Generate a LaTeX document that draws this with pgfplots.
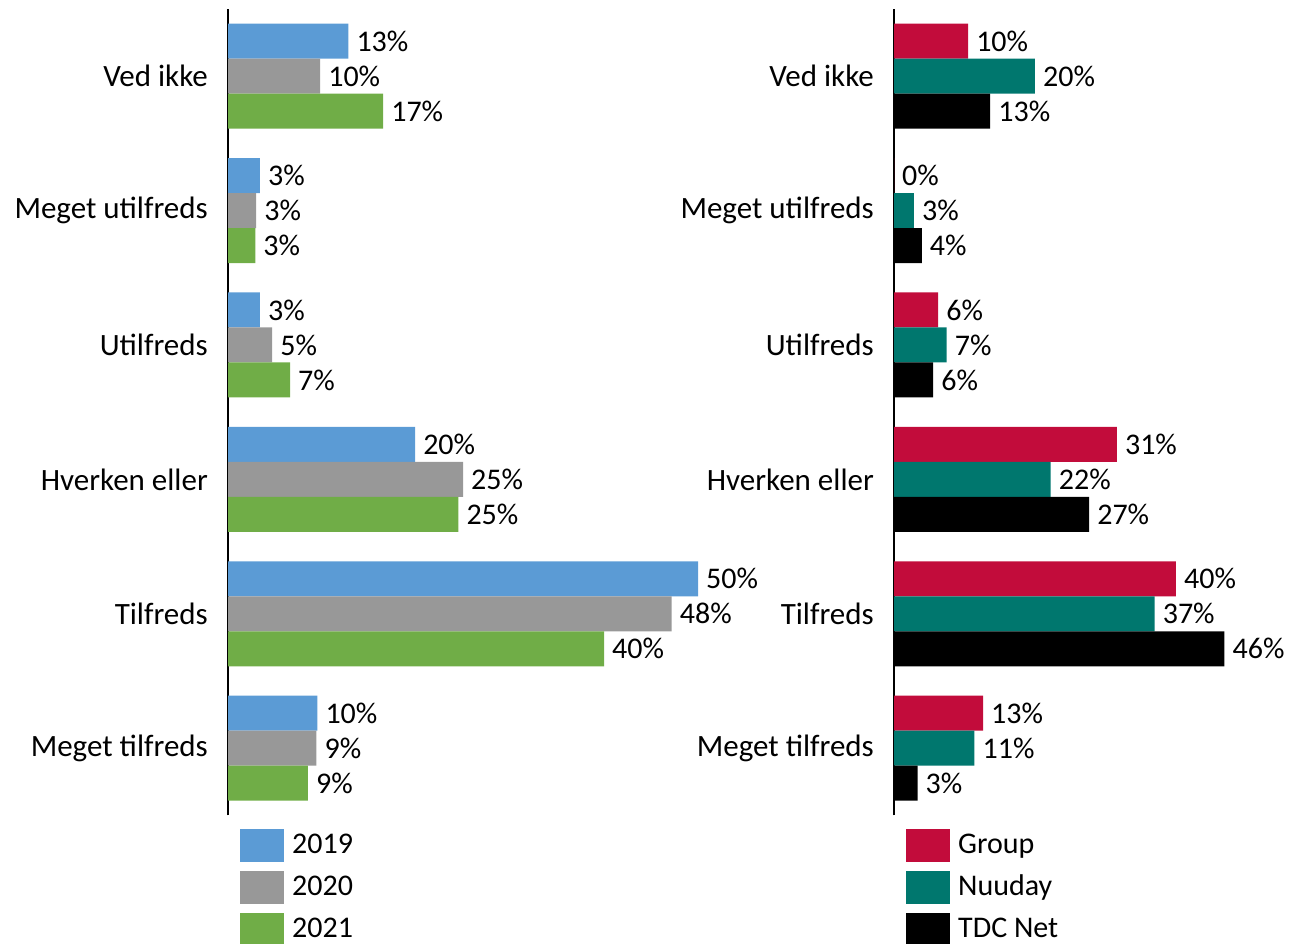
\documentclass[border=0pt]{standalone}
\usepackage{fontspec}
\setmainfont{Carlito}
\usepackage{pgfplots}
\pgfplotsset{compat=1.18}
\definecolor{cblue}{HTML}{5B9BD5}
\definecolor{cgray}{HTML}{989898}
\definecolor{cgreen}{HTML}{70AD47}
\definecolor{cred}{HTML}{C20C3B}
\definecolor{cteal}{HTML}{00776E}
\pgfplotsset{
  mybars/.style={
    xbar, scale only axis,
    anchor=south west,
    height=806.4pt,
    xmin=0, xmax=50,
    ymin=-0.5, ymax=5.5,
    clip=false,
    axis x line=none,
    axis y line*=left,
    y axis line style={line width=1.5pt, black},
    major tick length=0pt,
    ytick={0,1,2,3,4,5},
    yticklabels={Meget tilfreds,Tilfreds,Hverken eller,Utilfreds,Meget utilfreds,Ved ikke},
    yticklabel style={inner sep=0pt, xshift=-20pt},
    bar width=35pt,
    point meta=explicit symbolic,
    nodes near coords={\pgfplotspointmeta},
    every node near coord/.append style={anchor=west, inner sep=0pt, xshift=8pt, font=\fontsize{30}{36}\selectfont, text=black},
    tick label style={font=\fontsize{31}{37}\selectfont},
    legend image code/.code={\fill[##1,draw=none] (0pt,-16.5pt) rectangle (44pt,16.5pt);},
    legend style={at={(0,0)}, anchor=north west, xshift=12pt, yshift=-13.6pt,
      draw=none, fill=none, inner sep=0pt, row sep=9pt,
      nodes={inner sep=0pt, anchor=west},
      font=\fontsize{30}{36}\selectfont},
    legend cell align=left,
  },
}
\begin{document}
\fontsize{30}{36}\selectfont
\begin{tikzpicture}
\useasboundingbox (0,0) rectangle (1300pt,944pt);
\begin{axis}[mybars, at={(228pt,128.6pt)}, width=470pt,
  legend style={column sep=8pt}]
\addplot[fill=cblue, draw=none, bar shift=35pt] coordinates {
  (9.5,0) [10\%] (50.0,1) [50\%] (19.9,2) [20\%] (3.4,3) [3\%] (3.4,4) [3\%] (12.8,5) [13\%]};
\addplot[fill=cgray, draw=none, bar shift=0pt] coordinates {
  (9.4,0) [9\%] (47.2,1) [48\%] (25.0,2) [25\%] (4.7,3) [5\%] (3.0,4) [3\%] (9.8,5) [10\%]};
\addplot[fill=cgreen, draw=none, bar shift=-35pt] coordinates {
  (8.5,0) [9\%] (40.0,1) [40\%] (24.5,2) [25\%] (6.6,3) [7\%] (2.9,4) [3\%] (16.5,5) [17\%]};
\legend{2019,2020,2021}
\end{axis}
\begin{axis}[mybars, at={(894pt,128.6pt)}, width=356pt,
  legend style={column sep=8pt}]
\addplot[fill=cred, draw=none, bar shift=35pt] coordinates {
  (12.5,0) [13\%] (39.6,1) [40\%] (31.3,2) [31\%] (6.2,3) [6\%] (0,4) [0\%] (10.4,5) [10\%]};
\addplot[fill=cteal, draw=none, bar shift=0pt] coordinates {
  (11.3,0) [11\%] (36.6,1) [37\%] (22.0,2) [22\%] (7.4,3) [7\%] (2.8,4) [3\%] (19.8,5) [20\%]};
\addplot[fill=black, draw=none, bar shift=-35pt] coordinates {
  (3.3,0) [3\%] (46.4,1) [46\%] (27.4,2) [27\%] (5.5,3) [6\%] (3.9,4) [4\%] (13.5,5) [13\%]};
\legend{Group,Nuuday,TDC Net}
\end{axis}
\end{tikzpicture}
\end{document}
